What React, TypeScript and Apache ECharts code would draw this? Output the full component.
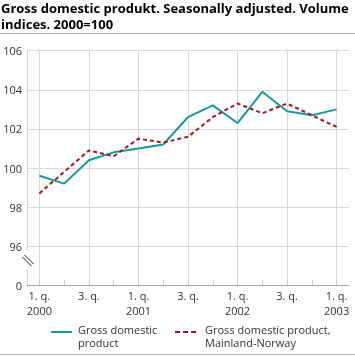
import React, { useEffect, useRef } from "react";
import * as echarts from "echarts";

const categories = [
  "2000Q1", "2000Q2", "2000Q3", "2000Q4",
  "2001Q1", "2001Q2", "2001Q3", "2001Q4",
  "2002Q1", "2002Q2", "2002Q3", "2002Q4",
  "2003Q1",
];
const xTickLabels = [
  "1. q.\n2000", "", "3. q.", "",
  "1. q.\n2001", "", "3. q.", "",
  "1. q.\n2002", "", "3. q.", "",
  "1. q.\n2003",
];
const gdp = [99.6, 99.2, 100.4, 100.8, 101.0, 101.2, 102.6, 103.2, 102.3, 103.9, 102.9, 102.7, 103.0];
const mainland = [98.7, 99.8, 100.9, 100.6, 101.5, 101.3, 101.6, 102.6, 103.3, 102.8, 103.3, 102.7, 102.1];
const yTicks = [94, 96, 98, 100, 102, 104, 106];
const yTickLabels = ["0", "96", "98", "100", "102", "104", "106"];
const seriesNames = ["Gross domestic\nproduct", "Gross domestic product,\nMainland-Norway"];
const titleLines = ["Gross domestic produkt. Seasonally adjusted. Volume", "indices. 2000=100"];

const TEAL = "#17999a";
const RED = "#a3171c";
const FONT = "'Open Sans', 'Noto Sans', sans-serif";

export default function App() {
  const ref = useRef<HTMLDivElement>(null);
  useEffect(() => {
    if (!ref.current) return;
    const chart = echarts.init(ref.current, undefined, { renderer: "svg" });
    const left = 27;
    const right = 6;
    const top = 50.7;
    const bottom = 71.7;
    const band = (355 - left - right) / categories.length;
    const legendText = (text: string, x: number) => {
      const lines = text.split("\n");
      return lines.map((line, i) => ({
        type: "text",
        left: x,
        top: 324 + i * 13,
        style: { text: line, font: `11px ${FONT}`, fill: "#333" },
      }));
    };
    chart.setOption({
      animation: false,
      textStyle: { fontFamily: FONT },
      grid: [
        { left, right, top, bottom },
        { left: left + band / 2, right: right + band / 2, top, bottom },
      ],
      xAxis: [
        {
          type: "category",
          gridIndex: 0,
          data: categories,
          boundaryGap: true,
          axisLine: { show: true, lineStyle: { color: "#a6a6a6", width: 1 } },
          axisTick: {
            show: true,
            alignWithLabel: true,
            interval: 0,
            inside: true,
            length: 5,
            lineStyle: { color: "#c8c8c8" },
          },
          axisLabel: {
            interval: 0,
            margin: 3,
            color: "#333",
            fontSize: 11,
            lineHeight: 14.5,
            fontFamily: FONT,
            formatter: (_v: string, i: number) => xTickLabels[i],
          },
          splitLine: { show: false },
        },
        {
          type: "value",
          gridIndex: 1,
          min: 0,
          max: categories.length - 1,
          interval: 2,
          axisLine: { show: false },
          axisTick: { show: false },
          axisLabel: { show: false },
          splitLine: { show: true, lineStyle: { color: "#d9d9d9", width: 1 } },
        },
      ],
      yAxis: [
        {
          type: "value",
          gridIndex: 0,
          min: 94,
          max: 106,
          interval: 2,
          axisLine: { show: true, lineStyle: { color: "#d0d0d0" } },
          axisTick: { show: false },
          axisLabel: {
            margin: 5,
            color: "#333",
            fontSize: 11,
            fontFamily: FONT,
            formatter: (v: number) => yTickLabels[yTicks.indexOf(v)] ?? "",
          },
          splitLine: { show: true, lineStyle: { color: "#d9d9d9", width: 1 } },
        },
        {
          type: "value",
          gridIndex: 1,
          min: 94,
          max: 106,
          show: false,
          splitLine: { show: false },
        },
      ],
      series: [
        {
          name: seriesNames[0],
          type: "line",
          xAxisIndex: 0,
          yAxisIndex: 0,
          data: gdp,
          symbol: "none",
          lineStyle: { color: TEAL, width: 2 },
          itemStyle: { color: TEAL },
          z: 3,
        },
        {
          name: seriesNames[1],
          type: "line",
          xAxisIndex: 0,
          yAxisIndex: 0,
          data: mainland,
          symbol: "none",
          lineStyle: { color: RED, width: 2, type: [4, 3] },
          itemStyle: { color: RED },
          z: 4,
        },
      ],
      graphic: [
        {
          type: "text",
          left: 1,
          top: 1,
          style: { text: titleLines[0], font: `bold 13px ${FONT}`, fill: "#000" },
        },
        {
          type: "text",
          left: 1,
          top: 17,
          style: { text: titleLines[1], font: `bold 13px ${FONT}`, fill: "#000" },
        },
        {
          type: "line",
          shape: { x1: 0, y1: 33.5, x2: 355, y2: 33.5 },
          style: { stroke: "#b3b3b3", lineWidth: 1 },
        },
        {
          type: "line",
          shape: { x1: 0, y1: 354.5, x2: 355, y2: 354.5 },
          style: { stroke: "#b3b3b3", lineWidth: 1 },
        },
        {
          type: "rect",
          shape: { x: 24, y: 250, width: 7, height: 20 },
          style: { fill: "#fff" },
          z: 100,
        },
        {
          type: "line",
          shape: { x1: 22.5, y1: 257, x2: 31.5, y2: 266 },
          style: { stroke: "#222", lineWidth: 1 },
          z: 101,
        },
        {
          type: "line",
          shape: { x1: 24.5, y1: 255, x2: 33.5, y2: 264 },
          style: { stroke: "#222", lineWidth: 1 },
          z: 101,
        },
        {
          type: "line",
          shape: { x1: 51, y1: 332, x2: 72, y2: 332 },
          style: { stroke: TEAL, lineWidth: 2 },
        },
        ...legendText(seriesNames[0], 78),
        {
          type: "line",
          shape: { x1: 175, y1: 332, x2: 197, y2: 332 },
          style: { stroke: RED, lineWidth: 2, lineDash: [5, 3] },
        },
        ...legendText(seriesNames[1], 205),
      ],
    });
    return () => chart.dispose();
  }, []);
  return (
    <div
      ref={ref}
      style={{ position: "fixed", left: 0, top: 0, width: 355, height: 357 }}
    />
  );
}
